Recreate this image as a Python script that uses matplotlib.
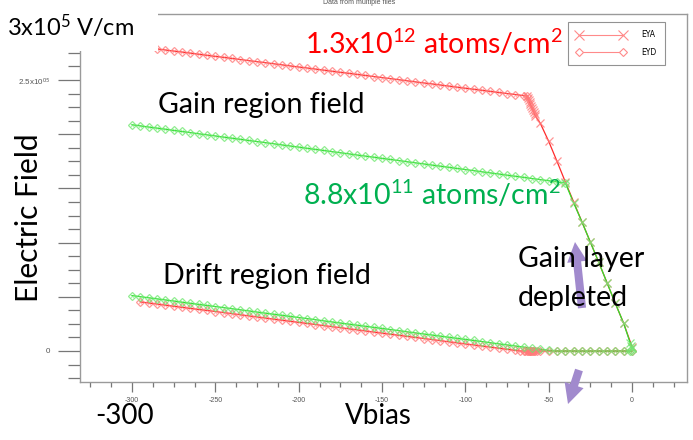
import numpy as np
import matplotlib
matplotlib.use('Agg')
import matplotlib.pyplot as plt
from matplotlib.lines import Line2D
from matplotlib.patches import Rectangle
from matplotlib.ticker import MultipleLocator, FuncFormatter

plt.rcParams['mathtext.fontset'] = 'custom'
plt.rcParams['mathtext.rm'] = 'Lato'
plt.rcParams['mathtext.it'] = 'Lato:italic'
plt.rcParams['mathtext.bf'] = 'Lato:bold'

# field values in kV/cm, bias in V
# 1.3e12 file (red) - gain region field
red_gain_flat_v = [-285, -280, -275, -270, -265, -260, -255, -250, -245, -240, -235, -230, -225, -220, -215,
                   -210, -205, -200, -195, -190, -185, -180, -175, -170, -165, -160, -155, -150, -145, -140,
                   -135, -130, -125, -120, -115, -110, -105, -100, -95, -90, -85, -80, -75, -70, -65, -63]
red_gain_flat_e = [278.7, 277.7, 276.7, 275.8, 274.8, 273.8, 272.8, 271.8, 270.9, 269.9, 268.9, 267.9, 266.9, 266.0, 265.0,
                   264.0, 263.0, 262.0, 261.1, 260.1, 259.1, 258.1, 257.1, 256.2, 255.2, 254.2, 253.2, 252.2, 251.3, 250.3,
                   249.3, 248.3, 247.3, 246.4, 245.4, 244.4, 243.4, 242.4, 241.5, 240.5, 239.5, 238.5, 237.5, 236.6, 235.6, 235.2]
red_gain_drop_v = [-63, -62.5, -62, -61.5, -61, -60.5, -60, -59.5, -59, -58.5, -58, -55, -50, -45, -40, -35, -30,
                   -25, -20, -15, -10, -5, 0]
red_gain_drop_e = [235.2, 233.4, 231.6, 229.7, 227.9, 226.1, 224.2, 222.4, 220.6, 218.8, 216.9, 210.0, 193.5, 175.0,
                   156.0, 137.5, 119.0, 100.5, 82.0, 63.0, 44.0, 25.5, 4.0]

# 1.3e12 file (red) - drift region field
red_drift_v = [-295, -290, -285, -280, -275, -270, -265, -260, -255, -250, -245, -240, -235, -230, -225, -220,
               -215, -210, -205, -200, -195, -190, -185, -180, -175, -170, -165, -160, -155, -150, -145, -140,
               -135, -130, -125, -120, -115, -110, -105, -100, -95, -90, -85, -80, -75, -70, -67, -65, -64, -63,
               -62.5, -62, -61.5, -61, -60.5, -60, -59.5, -59, -58, -57, -55, -50, -45, -40, -35, -30, -25, -20,
               -15, -10, -5, 0]
red_drift_e = [45.3, 44.3, 43.3, 42.3, 41.3, 40.3, 39.3, 38.3, 37.4, 36.4, 35.4, 34.4, 33.4, 32.4, 31.4, 30.4,
               29.4, 28.4, 27.4, 26.4, 25.4, 24.4, 23.4, 22.4, 21.5, 20.5, 19.5, 18.5, 17.5, 16.5, 15.5, 14.5,
               13.5, 12.5, 11.5, 10.5, 9.5, 8.5, 7.5, 6.5, 5.6, 4.6, 3.6, 2.6, 1.6, 0.6, 0.0, 0.0, 0.0, 0.0,
               0.0, 0.0, 0.0, 0.0, 0.0, 0.0, 0.0, 0.0, 0.0, 0.0, 0.0, 0.0, 0.0, 0.0, 0.0, 0.0, 0.0, 0.0,
               0.0, 0.0, 0.0, 0.0]

# 8.8e11 file (green) - gain region field
green_gain_flat_v = [-300, -295, -290, -285, -280, -275, -270, -265, -260, -255, -250, -245, -240, -235, -230,
                     -225, -220, -215, -210, -205, -200, -195, -190, -185, -180, -175, -170, -165, -160, -155,
                     -150, -145, -140, -135, -130, -125, -120, -115, -110, -105, -100, -95, -90, -85, -80, -75,
                     -70, -65, -60, -55, -50, -45, -40]
green_gain_flat_e = [208.7, 207.7, 206.6, 205.6, 204.6, 203.5, 202.5, 201.5, 200.4, 199.4, 198.4, 197.3, 196.3,
                     195.3, 194.2, 193.2, 192.2, 191.2, 190.1, 189.1, 188.1, 187.0, 186.0, 185.0, 183.9, 182.9,
                     181.9, 180.8, 179.8, 178.8, 177.7, 176.7, 175.7, 174.6, 173.6, 172.6, 171.5, 170.5, 169.5,
                     168.4, 167.4, 166.4, 165.3, 164.3, 163.3, 162.2, 161.2, 160.2, 159.1, 158.1, 157.1, 156.0, 155.0]
green_gain_drop_v = [-40, -35, -30, -25, -20, -15, -10, -5, -1, -0.5, 0]
green_gain_drop_e = [155.0, 136.5, 119.0, 100.5, 82.0, 63.0, 44.0, 25.5, 7.0, 5.0, 3.0]

# 8.8e11 file (green) - drift region field
green_drift_v = [-300, -295, -290, -285, -280, -275, -270, -265, -260, -255, -250, -245, -240, -235, -230,
                 -225, -220, -215, -210, -205, -200, -195, -190, -185, -180, -175, -170, -165, -160, -155,
                 -150, -145, -140, -135, -130, -125, -120, -115, -110, -105, -100, -95, -90, -85, -80, -75,
                 -70, -65, -60, -55, -50, -45, -40, -35, -30, -25, -20, -15, -10, -5, -1, 0]
green_drift_e = [51.1, 50.1, 49.1, 48.1, 47.1, 46.1, 45.0, 44.0, 43.0, 42.0, 41.0, 40.0, 39.0, 38.0, 37.0,
                 35.9, 34.9, 33.9, 32.9, 31.9, 30.9, 29.9, 28.9, 27.8, 26.8, 25.8, 24.8, 23.8, 22.8, 21.8,
                 20.8, 19.8, 18.8, 17.7, 16.7, 15.7, 14.7, 13.7, 12.7, 11.7, 10.7, 9.7, 8.7, 7.6, 6.6, 5.6,
                 4.6, 3.6, 2.6, 1.6, 0.6, 0.0, 0.0, 0.0, 0.0, 0.0, 0.0, 0.0, 0.0, 0.0, 0.0, 0.0]

x_ticks = [-300, -250, -200, -150, -100, -50, 0]
legend_names = ['EYA', 'EYD']

W, H = 693, 440
fig = plt.figure(figsize=(W / 100, H / 100), dpi=100)
ax = fig.add_axes([80 / W, 58 / H, 607 / W, 368 / H])

red_line, red_mk = '#ff2a2a', '#ff7a7a'
grn_line, grn_mk = '#2ee02e', '#6fe86f'


def kv(vals):
    return np.array(vals) * 1e3


def curve(v, e, lc, mc, marker):
    ax.plot(v, kv(e), color=lc, lw=0.9, zorder=2)
    if marker == 'D':
        ax.plot(v, kv(e), ls='none', marker='D', ms=3.8, mfc='none', mec=mc, mew=0.9, alpha=0.75, zorder=3)
        ax.plot(v, kv(e), ls='none', marker='x', ms=3.0, mec=mc, mew=0.6, alpha=0.6, zorder=3)
    else:
        ax.plot(v, kv(e), ls='none', marker='x', ms=5.5, mec=mc, mew=0.9, alpha=0.8, zorder=3)


curve(red_gain_flat_v, red_gain_flat_e, red_line, red_mk, 'D')
curve(red_gain_drop_v, red_gain_drop_e, red_line, red_mk, 'x')
curve(red_drift_v, red_drift_e, red_line, red_mk, 'D')
curve(green_gain_flat_v, green_gain_flat_e, grn_line, grn_mk, 'D')
curve(green_gain_drop_v, green_gain_drop_e, grn_line, grn_mk, 'x')
curve(green_drift_v, green_drift_e, grn_line, grn_mk, 'D')

ax.set_xlim(-331.2, 33.0)
ax.set_ylim(-28600, 310900)
ax.set_xticks(x_ticks)
ax.xaxis.set_minor_locator(MultipleLocator(12.5))
ax.yaxis.set_major_locator(MultipleLocator(50000))
ax.yaxis.set_minor_locator(MultipleLocator(12500))


def yfmt(val, pos):
    if abs(val) < 1:
        return '0'
    if abs(val - 250000) < 1:
        return '2.5x10$^{05}$'
    return ''


ax.yaxis.set_major_formatter(FuncFormatter(yfmt))
ax.xaxis.set_major_formatter(FuncFormatter(lambda v, p: '%d' % v))
for s in ax.spines.values():
    s.set_color('#9a9a9a')
    s.set_linewidth(1.0)
ax.tick_params(axis='x', which='major', length=7.2, width=0.9, color='#777777', pad=3.5,
               labelsize=5, labelcolor='#555555')
ax.tick_params(axis='x', which='minor', length=3.6, width=0.9, color='#777777')
ax.tick_params(axis='y', which='major', length=15.8, width=0.9, color='#777777', pad=5.5,
               labelsize=5.8, labelcolor='#555555')
ax.tick_params(axis='y', which='minor', length=8.6, width=0.9, color='#777777')
for lab in ax.get_xticklabels() + ax.get_yticklabels():
    lab.set_family('Liberation Sans')

handles = [Line2D([0], [0], color='#ff8a8a', lw=0.8, marker='x', ms=6.5, mew=0.8),
           Line2D([0], [0], color='#ff8a8a', lw=0.8, marker='D', ms=4.5, mfc='white', mew=0.8)]
leg = ax.legend(handles, legend_names, loc='upper left', bbox_to_anchor=(488 / 607, 360 / 368),
                numpoints=2, handlelength=6.4, fontsize=5.5, frameon=True, fancybox=False,
                borderpad=1.1, labelspacing=1.1, handletextpad=2.1, borderaxespad=0)
leg.get_frame().set_edgecolor('#777777')
leg.get_frame().set_linewidth(0.8)

# cover patch behind top-left unit label
fig.add_artist(Rectangle((0, 1 - 51 / H), 158 / W, 51 / H, transform=fig.transFigure,
                         facecolor='white', edgecolor='none', zorder=5))

fig.text(359 / W, 1 - 4 / H, 'Data from multiple files', ha='center', va='baseline',
         fontsize=5, color='#555555', family='Liberation Sans', zorder=6)


def put(x, y, s, **kw):
    return fig.text(x / W, 1 - y / H, s, va='baseline', family='Lato', zorder=6, **kw)


put(7, 36, '3x10$^{5}$ V/cm', fontsize=17)
put(305, 54, '1.3x10$^{12}$ atoms/cm$^{2}$', fontsize=20.5, color='#ff0000')
put(158, 113, 'Gain region field', fontsize=20.5)
put(303, 205, '8.8x10$^{11}$ atoms/cm$^{2}$', fontsize=20.5, color='#00b050')
put(163, 284, 'Drift region field', fontsize=20.5)
put(518, 267, 'Gain layer', fontsize=20.5)
put(518, 306, 'depleted', fontsize=20.5)
put(95, 424, '-300', fontsize=20)
put(345, 424, 'Vbias', fontsize=20)
fig.text(38 / W, 1 - 218 / H, 'Electric Field', rotation=90, rotation_mode='anchor',
         ha='center', va='baseline', fontsize=21.5, family='Lato', zorder=6)

arrow_col = '#a18acd'
for tail, tip in [((582, 308), (575, 242)), ((579, 370), (568, 404))]:
    ax.annotate('', xy=(tip[0], H - tip[1]), xytext=(tail[0], H - tail[1]),
                xycoords='figure pixels', textcoords='figure pixels', annotation_clip=False,
                arrowprops=dict(arrowstyle='simple,head_length=1.1,head_width=1.1,tail_width=0.45',
                                mutation_scale=13, color=arrow_col, lw=0, shrinkA=0, shrinkB=0),
                zorder=7)

fig.savefig('out.png', dpi=100)
